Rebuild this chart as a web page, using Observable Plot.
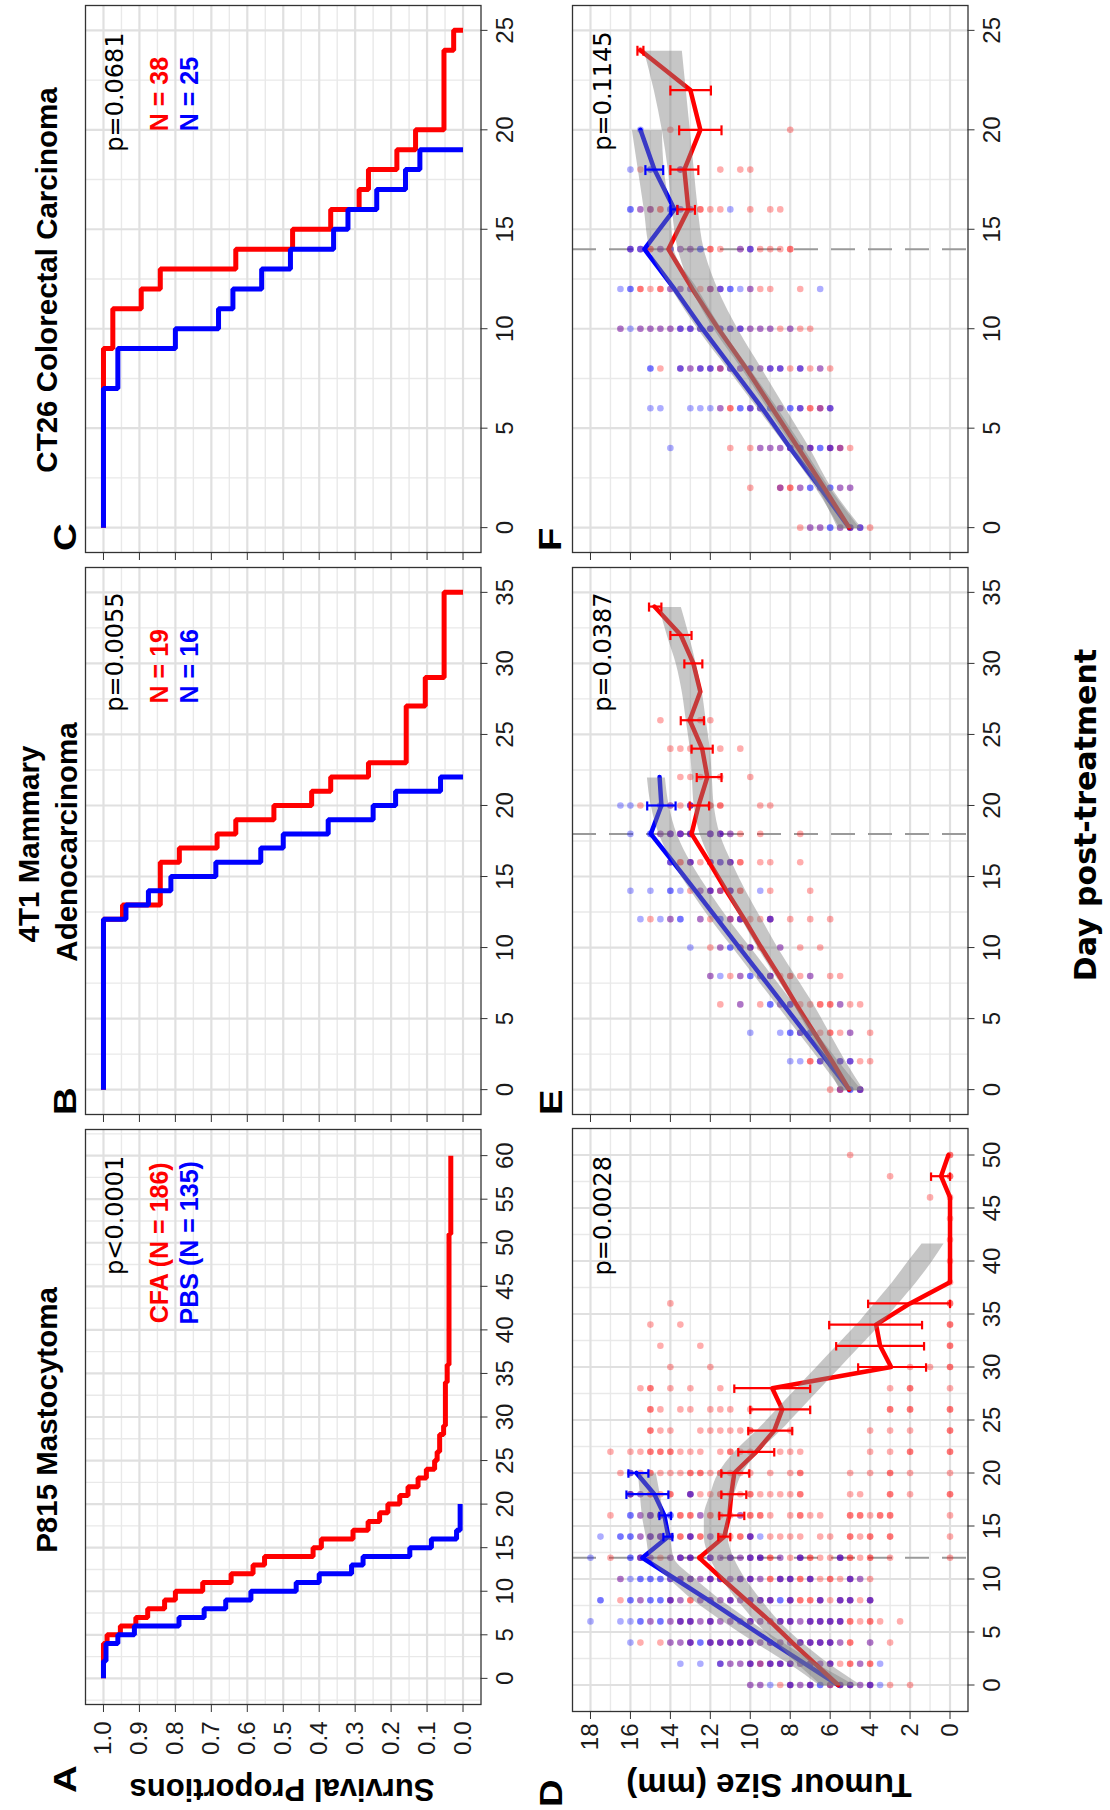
<!DOCTYPE html>
<html><head><meta charset="utf-8">
<script src="https://cdn.jsdelivr.net/npm/d3@7"></script>
<script src="https://cdn.jsdelivr.net/npm/@observablehq/plot@0.6"></script>
<style>
html,body{margin:0;padding:0;background:#fff;overflow:hidden;}
#fig{position:absolute;left:0;top:0;width:1810px;height:1110px;transform-origin:0 0;transform:translate(0px,1810px) rotate(-90deg);background:#fff;overflow:hidden;}
.lbl{position:absolute;white-space:nowrap;line-height:1;color:#000;}
</style></head><body><div id="fig"></div><script>
// ---------------- DATA ----------------
const titles = ["P815 Mastocytoma", "4T1 Mammary", "Adenocarcinoma", "CT26 Colorectal Carcinoma"];
const letters = ["A", "B", "C", "D", "E", "F"];
const axisTitles = ["Survival Proportions", "Tumour Size (mm)", "Day post-treatment"];
const pValues = ["p<0.0001", "p=0.0055", "p=0.0681", "p=0.0028", "p=0.0387", "p=0.1145"];
const legendA = ["CFA (N = 186)", "PBS (N = 135)"];
const legendB = ["N = 19", "N = 16"];
const legendC = ["N = 38", "N = 25"];

const ticks60 = [0,5,10,15,20,25,30,35,40,45,50,55,60];
const ticks50 = [0,5,10,15,20,25,30,35,40,45,50];
const ticks35 = [0,5,10,15,20,25,30,35];
const ticks25 = [0,5,10,15,20,25];
const survTicks = [0,0.1,0.2,0.3,0.4,0.5,0.6,0.7,0.8,0.9,1.0];
const sizeTicks = [0,2,4,6,8,10,12,14,16,18];

// Kaplan-Meier curves [day, survival]
const kmA_CFA = [[0,1],[4,0.99],[5,0.953],[6,0.91],[7,0.877],[8,0.83],[9,0.80],[10,0.724],[11,0.645],[12,0.584],[13,0.552],[14,0.417],[15,0.394],[16,0.306],[17,0.264],[18,0.232],[19,0.209],[20,0.176],[21,0.153],[22,0.125],[23,0.102],[24,0.079],[25,0.072],[26,0.065],[28,0.054],[29,0.049],[34,0.044],[36,0.039],[51,0.034],[60,0.034]];
const kmA_PBS = [[0,1],[2,0.993],[4,0.96],[5,0.914],[6,0.79],[7,0.72],[8,0.66],[9,0.59],[10,0.464],[11,0.40],[12,0.31],[13,0.278],[14,0.148],[15,0.088],[16,0.018],[17,0.008],[20,0.008]];
const kmB_CFA = [[0,1],[12,0.947],[13,0.842],[16,0.789],[17,0.684],[18,0.632],[19,0.526],[20,0.421],[21,0.368],[22,0.263],[23,0.158],[27,0.105],[29,0.0526],[35,0]];
const kmB_PBS = [[0,1],[12,0.9375],[13,0.875],[14,0.8125],[15,0.6875],[16,0.5625],[17,0.5],[18,0.375],[19,0.25],[20,0.1875],[21,0.0625],[22,0]];
const kmC_CFA = [[0,1],[9,0.974],[11,0.895],[12,0.842],[13,0.632],[14,0.474],[15,0.368],[16,0.289],[17,0.263],[18,0.184],[19,0.132],[20,0.053],[24,0.026],[25,0]];
const kmC_PBS = [[0,1],[7,0.96],[9,0.80],[10,0.68],[11,0.64],[12,0.56],[13,0.48],[14,0.36],[15,0.32],[16,0.24],[17,0.16],[18,0.12],[19,0]];

// Tumour size observations: [day, values...]
const dRedPts = [
 [0,10,9.5,8.5,8,8,7.5,7,7,6,6,5.5,5.5,5,5,4.5,4,4,3,2],
 [2,11.5,11,10.5,10,10,9.5,9.5,9,9,8.5,8.5,8,8,7.5,7,7,6.5,6,6,5.5,5,5,4.5,4,4],
 [4,15.5,14.5,14,13.5,13,13,12,12,11.5,11.5,11,11,10.5,10.5,10,10,9.5,9,9,8.5,8,7.5,7.5,7,7,6.5,6.5,6,6,5.5,5,5,4,3],
 [6,15,14,13.5,13.5,13,13,12.5,12,12,11.5,11,10.5,10,10,9.5,9,8.5,8.5,8,8,7.5,7,7,6.5,6.5,6,6,5.5,5.5,5,5,4.5,4,4,3.5,2.5],
 [8,16.5,15.5,14,14,13.5,13,13,12.5,12,12,11.5,11,11,10.5,10,10,9.5,9.5,9,9,8,8,7.5,7.5,7,7,6.5,6.5,6,5.5,5.5,5,5,4.5,4,4],
 [10,16.5,14,13.5,13.5,13,13,12.5,12,12,11.5,11.5,11,10.5,10.5,10,10,9.5,9,9,8.5,8.5,8,8,7.5,7.5,7,7,6.5,6,6,5.5,5,5,4.5,4],
 [12,17,15.5,15.5,15,14.5,14,13.5,13.5,13,13,12.5,12.5,12,12,11.5,11,11,10.5,10,10,9.5,9.5,9,9,8.5,8,7.5,7.5,7,7,6.5,6,5.5,5.5,5,5,4.5,4,4,3,0],
 [14,15.5,15,15,14.5,14.5,14,14,13.5,13.5,13,13,12.5,12.5,12,11.5,11.5,11,10.5,10.5,10,10,9,8.5,8,7.5,6.5,6,5,5,4.5,4,4,3,3,0],
 [16,17,15.5,15,15,14.5,14.5,13.5,13.5,13,13,12.5,12,12,11.5,11,10.5,10,10,9.5,9.5,9,8,7.5,7.5,7,6.5,5,5,4.5,4.5,4,3.5,3.5,3,3,0],
 [18,16,16,15.5,15,15,14.5,14,14,13,13,12.5,12,11.5,11.5,11,10.5,10,10,9.5,9,8.5,8,7.5,7.5,5,4.5,3,3,2,0,0],
 [20,16.5,16,15.5,15,15,14.5,14,13.5,13,13,12.5,12.5,12,11.5,11.5,11,10.5,10,9,8,7.5,7.5,5,4,3,3,2,0],
 [22,17,16,15.5,15,15,14.5,14.5,14,14,13.5,13,12.5,11.5,11,11,10.5,10,8.5,8,7.5,4,3,2,2,0,0],
 [24,15,15,14.5,14,12.5,12,11.5,11,10.5,10,10,8,4,3,2,0,0],
 [26,15,15,14.5,13.5,13,12,11.5,11,10,3,3,2,2,0,0],
 [28,15.5,15,15,14,13,11.5,3,2,2,0],
 [30,14,12,2,1,0,0],
 [32,14.5,12.5,0,0],
 [34,15,13.5,0,0],
 [36,14,0,0],
 [38,0],[40,0],[42,0],[44,0],
 [46,1,0],
 [48,3,0,0],
 [50,5,0,0]
];
const dBluePts = [
 [0,10,9.5,9,8,8,7.5,7,7,6.5,6.5,6,5.5,5.5,5,5,4.5,4,4,3.5],
 [2,13.5,12.5,11.5,11.5,11,10.5,10,10,9.5,9,9,8.5,8.5,8,8,7.5,7,7,6.5,6,6,4.5,3.5],
 [4,16,14,13.5,13,13,12.5,12.5,12,12,11.5,11.5,11,11,10.5,10.5,10,10,9.5,9,9,8.5,8,7.5,7.5,7,7,6.5,6.5,6,6,5.5,4],
 [6,18,16.5,16,15.5,15.5,15,14.5,14.5,14,13.5,13.5,13,13,12.5,12,12,11.5,11,10.5,10,10,9.5,9,8.5,8.5,8,8,7.5,7,7,6.5,6.5,6,6,5.5,5.5],
 [8,17.5,17.5,16,16,15.5,15,15,14.5,14.5,14,14,13.5,12.5,12,12,11.5,11,11,10.5,10,10,9.5,9.5,9,9,8.5,8.5,8,8,6.5,6.5,5.5,5.5,5,5,4,4],
 [10,16.5,16,15.5,15.5,15,15,14.5,14.5,14,14,13.5,13.5,13,13,12.5,12,12,11.5,11.5,11,10.5,10.5,10,10,9.5,8.5,8.5,8,8,7,7,5,5,4.5],
 [12,18,16,16,15.5,15.5,15,14,13.5,13.5,13,13,12,12,11.5,11,11,10.5,10,10,9.5,9.5,8.5,7.5,7.5,5.5,5.5],
 [14,17.5,16.5,16.5,16,16,15.5,15,15,14.5,14.5,14,14,13,13,12,10,10,9.5],
 [16,16,16,15.5,15,15,14.5,14.5,14,14,12.5,10.5],
 [18,16,16,15.5,13,13],
 [20,16,16]
];
const eRedPts = [
 [0,6,5.5,5.5,4.5,4.5],
 [2,7,7,6.5,6,6,5.5,5,4.5,4],
 [4,7.5,6.5,6,6,5.5,5,4],
 [6,11.5,10.5,9.5,8.5,8,7.5,7,6.5,6.5,6,6,5.5,5,4.5],
 [8,12,11,10.5,9.5,9,9,8.5,8,8,7.5,7,6,5.5],
 [10,12,11.5,10.5,10.5,10,10,9.5,8.5,7.5,6.5],
 [12,15,14,12.5,12,11,11,10.5,10.5,10,9.5,9,9,8,7,6],
 [14,13,12.5,12,12,11.5,11.5,11,11,10.5,10.5,9,7],
 [16,14,13.5,13.5,13,13,12.5,12,12,11.5,11,11,10.5,10.5,9.5,9,7.5],
 [18,14.5,14,14,13.5,13.5,13,13,12,12,11.5,11.5,11,10.5,9.5,7.5],
 [20,15.5,14,13.5,13,13,12,12,11.5,11.5,9.5,9],
 [22,13.5,13,12.5,11.5,10],
 [24,14,13.5,13,11.5,10.5],
 [26,14.5,13,13,12.5,12]
];
const eBluePts = [
 [0,5.5,5,5,4.5,4.5],
 [2,8,7.5,6.5,6.5,6,5.5,5.5,5,5],
 [4,10,8.5,8,8,7.5,7.5,7,7,5],
 [6,10.5,9,9,8.5,8,8,5.5],
 [8,12,11.5,10.5,10,10,9.5,9,9,7],
 [10,13,11.5,11,11,10.5,10,10,8.5],
 [12,15.5,14.5,14,13.5,13.5,12.5,11.5,11.5,11,10.5,10.5,9,9],
 [14,16,15,14,14,13.5,12.5,12,12,11.5,11,11,9.5],
 [16,14,14,13,13,12,12,11.5,11.5,11,11],
 [18,16,15,15,14.5,14,14,13.5,13.5,13,13,12,12,11.5,11.5,11],
 [20,16.5,16,14.5,14.5,14,13,13]
];
const fRedPts = [
 [0,7.5,7,6.5,5.5,5,5,4.5,4],
 [2,10,8.5,8.5,8,8,7.5,6.5,5.5,5],
 [4,11,10,9.5,9,8.5,8,8,7.5,7.5,7,7,6,6,5.5,5.5,5],
 [6,11.5,11,11,10,9.5,8.5,7.5,7,7,6.5,6.5,6],
 [8,14.5,13.5,13,12.5,12,11.5,11.5,11,10.5,10,9.5,9,8.5,8,7.5,7,6.5,6],
 [10,16.5,15.5,15,14.5,14,13.5,13,12.5,12,11.5,11,10.5,10,9.5,9,8.5,8,7.5,7],
 [12,15.5,15.5,15,14.5,14.5,14,13.5,13,12.5,12,12,11.5,10,9.5,9,7.5],
 [14,16,15.5,15,15,14.5,14,13.5,13,12,12,11.5,10.5,10,9.5,9,8.5,8,8],
 [16,15.5,15,15,14.5,14.5,13.5,13,12.5,12.5,12,11.5,10,9,8.5],
 [18,15.5,13.5,13.5,11.5,10.5,10],
 [20,14,8],
 [24,15.5]
];
const fBluePts = [
 [0,7,6.5,6,6,5.5,5,5,4.5,4.5],
 [2,8.5,7.5,7,7,6.5,6,6,5.5,5],
 [4,14,9.5,9,8.5,8,8,7.5,7.5,7,7,6.5,6.5,6,6,5.5],
 [6,15,14.5,13,12.5,12,11.5,10.5,10.5,10,10,9.5,9.5,9,9,8.5,8,8,7.5,7.5,6.5,6,6],
 [8,15,15,13.5,13.5,13,12.5,12.5,12,12,11.5,11,11,10.5,10,10,9.5,9,9,8.5,8.5,7.5,7.5,6.5],
 [10,16.5,16,15.5,15,14.5,14,13.5,13.5,13,13,12.5,12.5,12,12,11.5,11.5,11,11,10.5,10.5,10,9.5,9,8],
 [12,16.5,16,16,14,13.5,13,12,11.5,11.5,11,11,10.5,10,6.5],
 [14,16,16,15.5,15.5,14.5,14,14,13.5,13,12.5,12.5,10.5,10,10],
 [16,16,16,15.5,15,14,14,13.5,13,11],
 [18,16,15,15,13.5],
 [20,15.5]
];

// Mean tumour size [day, mean]
const dRedMean = [[0,5.6],[2,6.75],[4,7.9],[6,9.0],[8,10.2],[10,11.4],[12,12.55],[14,11.3],[16,11.05],[18,10.95],[20,10.8],[22,9.7],[24,8.8],[26,8.4],[28,8.9],[30,2.95],[32,3.5],[34,3.7],[36,2.0],[38,0],[40,0],[42,0],[44,0],[46,0],[48,0.45],[50,0.08]];
const dBlueMean = [[0,5.6],[2,7.25],[4,8.9],[6,10.5],[8,12.1],[10,13.75],[12,15.4],[14,14.1],[16,14.3],[18,14.8],[20,15.7]];
const eRedMean = [[0,5.05],[2,5.9],[4,6.8],[6,7.7],[8,8.55],[10,9.45],[12,10.3],[14,11.2],[16,12.05],[18,12.94],[20,12.59],[22,12.15],[24,12.41],[26,13.03],[28,12.5],[30,12.85],[32,13.48],[34,14.8]];
const eBlueMean = [[0,5.05],[2,6.15],[4,7.25],[6,8.35],[8,9.45],[10,10.55],[12,11.65],[14,12.75],[16,13.85],[18,14.98],[20,14.45],[22,14.54]];
const fRedMean = [[0,5.05],[2,6.3],[4,7.6],[6,8.9],[8,10.2],[10,11.6],[12,12.9],[14,14.1],[16,13.1],[18,13.3],[20,12.5],[22,13.0],[24,15.5]];
const fBlueMean = [[0,5.05],[2,6.5],[4,8.0],[6,9.4],[8,10.9],[10,12.4],[12,13.8],[14,15.3],[16,13.8],[18,14.8],[20,15.5]];

// Error bars [day, low, high]
const dRedErr = [[14,11.0,11.6],[16,10.3,11.55],[18,10.2,11.45],[20,10.05,11.45],[22,8.8,10.6],[24,7.9,10.1],[26,7.0,10.0],[28,7.0,10.8],[30,1.2,4.6],[32,1.3,5.7],[34,1.4,6.05],[36,0,4.1],[48,0,0.95]];
const dBlueErr = [[14,13.9,14.35],[16,13.97,14.55],[18,14.1,16.2],[20,15.1,16.1]];
const eRedErr = [[20,12.06,13.03],[22,11.44,12.68],[24,11.88,12.94],[26,12.32,13.48],[30,12.4,13.3],[32,12.94,14.0],[34,14.45,15.07]];
const eBlueErr = [[20,13.74,15.16]];
const fRedErr = [[16,12.77,13.65],[18,12.6,14.0],[20,11.44,13.56],[22,11.97,14.0],[24,15.35,15.65]];
const fBlueErr = [[16,13.65,14.0],[18,14.36,15.25]];

// Smoothed bands [day, low, high]
const dRedBand = [[0,4.4,6.4],[2,6.0,7.6],[4,7.35,8.65],[6,8.5,9.7],[8,9.4,10.6],[10,10.2,11.4],[12,10.8,12.0],[14,11.1,12.3],[16,11.1,12.3],[18,10.8,12.0],[20,10.4,11.6],[22,9.6,10.8],[24,8.5,9.7],[26,7.5,8.7],[28,6.5,7.7],[30,5.5,6.7],[32,4.5,5.7],[34,3.5,4.7],[36,2.6,3.8],[38,1.7,2.9],[40,0.9,2.1],[41.7,0.3,1.4]];
const dBlueBand = [[0,4.7,6.5],[2,6.6,8.0],[4,8.3,9.7],[6,9.9,11.3],[8,11.4,12.8],[10,12.7,14.0],[12,13.8,15.0],[14,14.0,15.2],[16,14.3,15.4],[18,14.5,15.5],[20,14.7,15.6]];
const eRedBand = [[0,4.3,5.5],[2,5.2,6.2],[4,6.0,7.0],[6,6.8,7.8],[8,7.7,8.7],[10,8.6,9.6],[12,9.4,10.4],[14,10.2,11.2],[16,10.9,11.9],[18,11.5,12.5],[20,11.8,12.8],[22,11.9,12.9],[24,12.0,13.0],[26,12.2,13.2],[28,12.4,13.4],[30,12.7,13.7],[32,13.05,14.15],[34,13.45,14.55]];
const eBlueBand = [[0,4.4,5.4],[2,5.55,6.45],[4,6.65,7.55],[6,7.75,8.65],[8,8.85,9.75],[10,9.95,10.85],[12,11.05,11.95],[14,12.05,12.95],[16,12.95,13.85],[18,13.65,14.55],[20,14.05,14.95],[22,14.25,15.15]];
const fRedBand = [[0,4.4,5.6],[2,5.9,6.6],[4,7.0,7.8],[6,8.2,9.1],[8,9.4,10.4],[10,10.6,11.8],[12,11.6,12.9],[14,12.3,13.6],[16,12.6,13.9],[18,12.8,14.1],[20,13.0,14.4],[22,13.2,14.8],[24,13.4,15.3]];
const fBlueBand = [[0,4.5,5.5],[2,6.0,6.7],[4,7.3,8.1],[6,8.6,9.6],[8,10.0,11.1],[10,11.4,12.6],[12,12.6,13.9],[14,13.8,15.0],[16,14.0,15.3],[18,14.3,15.6],[20,14.4,15.9]];

const treatDay = {D: 12, E: 18, F: 14};

// ---------------- RENDER ----------------
const fig = document.getElementById("fig");
const RED = "#ff0000", BLUE = "#0000ff";
const SANS = "'Liberation Sans', Arial, Helvetica, sans-serif";

function flat(rows) {
  const out = [];
  for (const [d, ...vs] of rows) for (const v of vs) out.push({day: d, v});
  return out;
}
const minor = (t) => t.slice(1).map((v, i) => (v + t[i]) / 2);

function panel(cfg) {
  const ML = 120, MR = 12, MT = 12, MB = 60;
  const svg = Plot.plot({
    width: cfg.w + ML + MR, height: cfg.h + MT + MB,
    marginLeft: ML, marginRight: MR, marginTop: MT, marginBottom: MB,
    x: {domain: cfg.xd}, y: {domain: cfg.yd},
    style: {background: "transparent", fontFamily: SANS, fontSize: "24px", color: "#1a1a1a", overflow: "visible"},
    marks: [
      Plot.gridX(cfg.xm, {stroke: "#e9e9e9", strokeOpacity: 1, strokeWidth: 1.4}),
      Plot.gridY(cfg.ym, {stroke: "#e9e9e9", strokeOpacity: 1, strokeWidth: 1.4}),
      Plot.gridX(cfg.xt, {stroke: "#e0e0e0", strokeOpacity: 1, strokeWidth: 2.2}),
      Plot.gridY(cfg.yt, {stroke: "#e0e0e0", strokeOpacity: 1, strokeWidth: 2.2}),
      ...cfg.marks,
      Plot.frame({stroke: "#333", strokeWidth: 1.3}),
      Plot.axisX({ticks: cfg.xt, tickSize: 7, tickPadding: 8, tickFormat: d => String(d), stroke: "#333", fontSize: 24, label: null}),
      Plot.axisY({ticks: cfg.yt, tickSize: 7, tickPadding: cfg.yPad, tickFormat: cfg.yFmt, stroke: "#333", fontSize: 24, label: null})
    ]
  });
  svg.style.position = "absolute";
  svg.style.left = (cfg.x - ML) + "px";
  svg.style.top = (cfg.y - MT) + "px";
  fig.appendChild(svg);
}

function kmMarks(red, blue, p, pX, legend, legX) {
  return [
    Plot.line(red, {x: d => d[0], y: d => d[1], curve: "step-after", stroke: RED, strokeWidth: 5, strokeLinecap: "butt", strokeLinejoin: "miter"}),
    Plot.line(blue, {x: d => d[0], y: d => d[1], curve: "step-after", stroke: BLUE, strokeWidth: 5, strokeLinecap: "butt", strokeLinejoin: "miter"}),
    Plot.text([p], {x: pX, y: 0.966, text: d => d, textAnchor: "end", lineAnchor: "middle", fontSize: 24, fontFamily: "'DejaVu Sans', sans-serif", fill: "#000"}),
    Plot.text([legend[0]], {x: legX, y: 0.844, text: d => d, textAnchor: "middle", lineAnchor: "middle", fontSize: 25, fontWeight: "bold", fontFamily: SANS, fill: RED}),
    Plot.text([legend[1]], {x: legX, y: 0.759, text: d => d, textAnchor: "middle", lineAnchor: "middle", fontSize: 25, fontWeight: "bold", fontFamily: SANS, fill: BLUE})
  ];
}

function errMarks(err, color, cw) {
  return [
    Plot.ruleX(err, {x: d => d[0], y1: d => d[1], y2: d => d[2], stroke: color, strokeWidth: 2.2}),
    Plot.ruleY(err, {y: d => d[1], x1: d => d[0] - cw, x2: d => d[0] + cw, stroke: color, strokeWidth: 2.2}),
    Plot.ruleY(err, {y: d => d[2], x1: d => d[0] - cw, x2: d => d[0] + cw, stroke: color, strokeWidth: 2.2})
  ];
}

function sizeMarks(o) {
  const band = (b) => Plot.areaY(b, {x: d => d[0], y1: d => d[1], y2: d => d[2], fill: "#808080", fillOpacity: 0.45, curve: "monotone-x"});
  return [
    Plot.ruleX([o.treat], {stroke: "#9a9a9a", strokeWidth: 2, strokeDasharray: "24,13"}),
    Plot.dot(flat(o.redPts), {x: "day", y: "v", r: 3.3, fill: RED, fillOpacity: 0.32, stroke: "none"}),
    Plot.dot(flat(o.bluePts), {x: "day", y: "v", r: 3.3, fill: BLUE, fillOpacity: 0.32, stroke: "none"}),
    Plot.line(o.blueMean, {x: d => d[0], y: d => d[1], stroke: BLUE, strokeWidth: 4.5, strokeLinejoin: "round"}),
    Plot.line(o.redMean, {x: d => d[0], y: d => d[1], stroke: RED, strokeWidth: 4.5, strokeLinejoin: "round"}),
    band(o.blueBand), band(o.redBand),
    ...errMarks(o.blueErr, BLUE, o.cw),
    ...errMarks(o.redErr, RED, o.cw),
    Plot.text([o.p], {x: o.pX, y: 17.34, text: d => d, textAnchor: "end", lineAnchor: "middle", fontSize: 24, fontFamily: "'DejaVu Sans', sans-serif", fill: "#000"})
  ];
}

const TOPY = 84.5, BOTY = 571.5, PH = 395.5;
const survFmt = d => d.toFixed(1);
const blank = () => "";

panel({x: 105, y: TOPY, w: 575, h: PH, xd: [-3, 63], yd: [-0.05, 1.05], xt: ticks60, xm: [-2.5, ...minor(ticks60), 62.5], yt: survTicks, ym: minor(survTicks), yFmt: survFmt, yPad: 10,
  marks: kmMarks(kmA_CFA, kmA_PBS, pValues[0], 60, legendA, 50)});
panel({x: 695, y: TOPY, w: 547, h: PH, xd: [-1.75, 36.75], yd: [-0.05, 1.05], xt: ticks35, xm: minor(ticks35), yt: survTicks, ym: minor(survTicks), yFmt: blank, yPad: 10,
  marks: kmMarks(kmB_CFA, kmB_PBS, pValues[1], 35, legendB, 29.8)});
panel({x: 1257, y: TOPY, w: 547, h: PH, xd: [-1.25, 26.25], yd: [-0.05, 1.05], xt: ticks25, xm: minor(ticks25), yt: survTicks, ym: minor(survTicks), yFmt: blank, yPad: 10,
  marks: kmMarks(kmC_CFA, kmC_PBS, pValues[2], 24.9, legendC, 21.8)});

panel({x: 98, y: BOTY, w: 583, h: PH, xd: [-2.5, 52.5], yd: [-0.9, 18.9], xt: ticks50, xm: minor(ticks50), yt: sizeTicks, ym: minor(sizeTicks), yFmt: d => String(d), yPad: 5,
  marks: sizeMarks({treat: treatDay.D, redPts: dRedPts, bluePts: dBluePts, redMean: dRedMean, blueMean: dBlueMean, redBand: dRedBand, blueBand: dBlueBand, redErr: dRedErr, blueErr: dBlueErr, cw: 0.4, p: pValues[3], pX: 49.9})});
panel({x: 695, y: BOTY, w: 547, h: PH, xd: [-1.75, 36.75], yd: [-0.9, 18.9], xt: ticks35, xm: minor(ticks35), yt: sizeTicks, ym: minor(sizeTicks), yFmt: blank, yPad: 5,
  marks: sizeMarks({treat: treatDay.E, redPts: eRedPts, bluePts: eBluePts, redMean: eRedMean, blueMean: eBlueMean, redBand: eRedBand, blueBand: eBlueBand, redErr: eRedErr, blueErr: eBlueErr, cw: 0.32, p: pValues[4], pX: 35})});
panel({x: 1257, y: BOTY, w: 547, h: PH, xd: [-1.25, 26.25], yd: [-0.9, 18.9], xt: ticks25, xm: minor(ticks25), yt: sizeTicks, ym: minor(sizeTicks), yFmt: blank, yPad: 5,
  marks: sizeMarks({treat: treatDay.F, redPts: fRedPts, bluePts: fBluePts, redMean: fRedMean, blueMean: fBlueMean, redBand: fRedBand, blueBand: fBlueBand, redErr: fRedErr, blueErr: fBlueErr, cw: 0.25, p: pValues[5], pX: 24.95})});

// ---------------- TEXT LABELS ----------------
function text(str, o) {
  const el = document.createElement("div");
  el.className = "lbl";
  el.textContent = str;
  el.style.fontFamily = o.family || SANS;
  el.style.fontWeight = o.weight || "bold";
  el.style.fontSize = o.size + "px";
  if (o.rot) {
    el.style.left = (o.base - 0.3465 * o.size) + "px";
    el.style.top = o.cy + "px";
    el.style.transform = "translate(-50%,-50%) rotate(-90deg)";
  } else {
    el.style.left = o.x + "px";
    el.style.top = (o.base - 0.8465 * o.size) + "px";
    const tf = [];
    if (o.center) tf.push("translateX(-50%)");
    if (o.sx) { el.style.transformOrigin = "0 0"; tf.push("scaleX(" + o.sx + ")"); }
    if (tf.length) el.style.transform = tf.join(" ");
  }
  fig.appendChild(el);
}

text(titles[0], {x: 390, base: 56.5, size: 29.5, center: true});
text(titles[1], {x: 966, base: 39, size: 29.5, center: true});
text(titles[2], {x: 968, base: 77, size: 29.5, center: true});
text(titles[3], {x: 1530, base: 56.5, size: 29.5, center: true});

text(letters[0], {x: 17, base: 76, size: 32, sx: 1.2});
text(letters[1], {x: 695, base: 76, size: 32, sx: 1.2});
text(letters[2], {x: 1259, base: 76, size: 32, sx: 1.2});
text(letters[3], {x: 3, base: 562, size: 32, sx: 1.2});
text(letters[4], {x: 695, base: 562, size: 32, sx: 1.2});
text(letters[5], {x: 1259, base: 561, size: 32, sx: 1.2});

text(axisTitles[0], {rot: true, base: 32.2, cy: 282, size: 31});
text(axisTitles[1], {rot: true, base: 36, cy: 769, size: 33});
text(axisTitles[2], {x: 995, base: 1096, size: 30, center: true, family: "'DejaVu Sans', sans-serif"});
</script></body></html>
